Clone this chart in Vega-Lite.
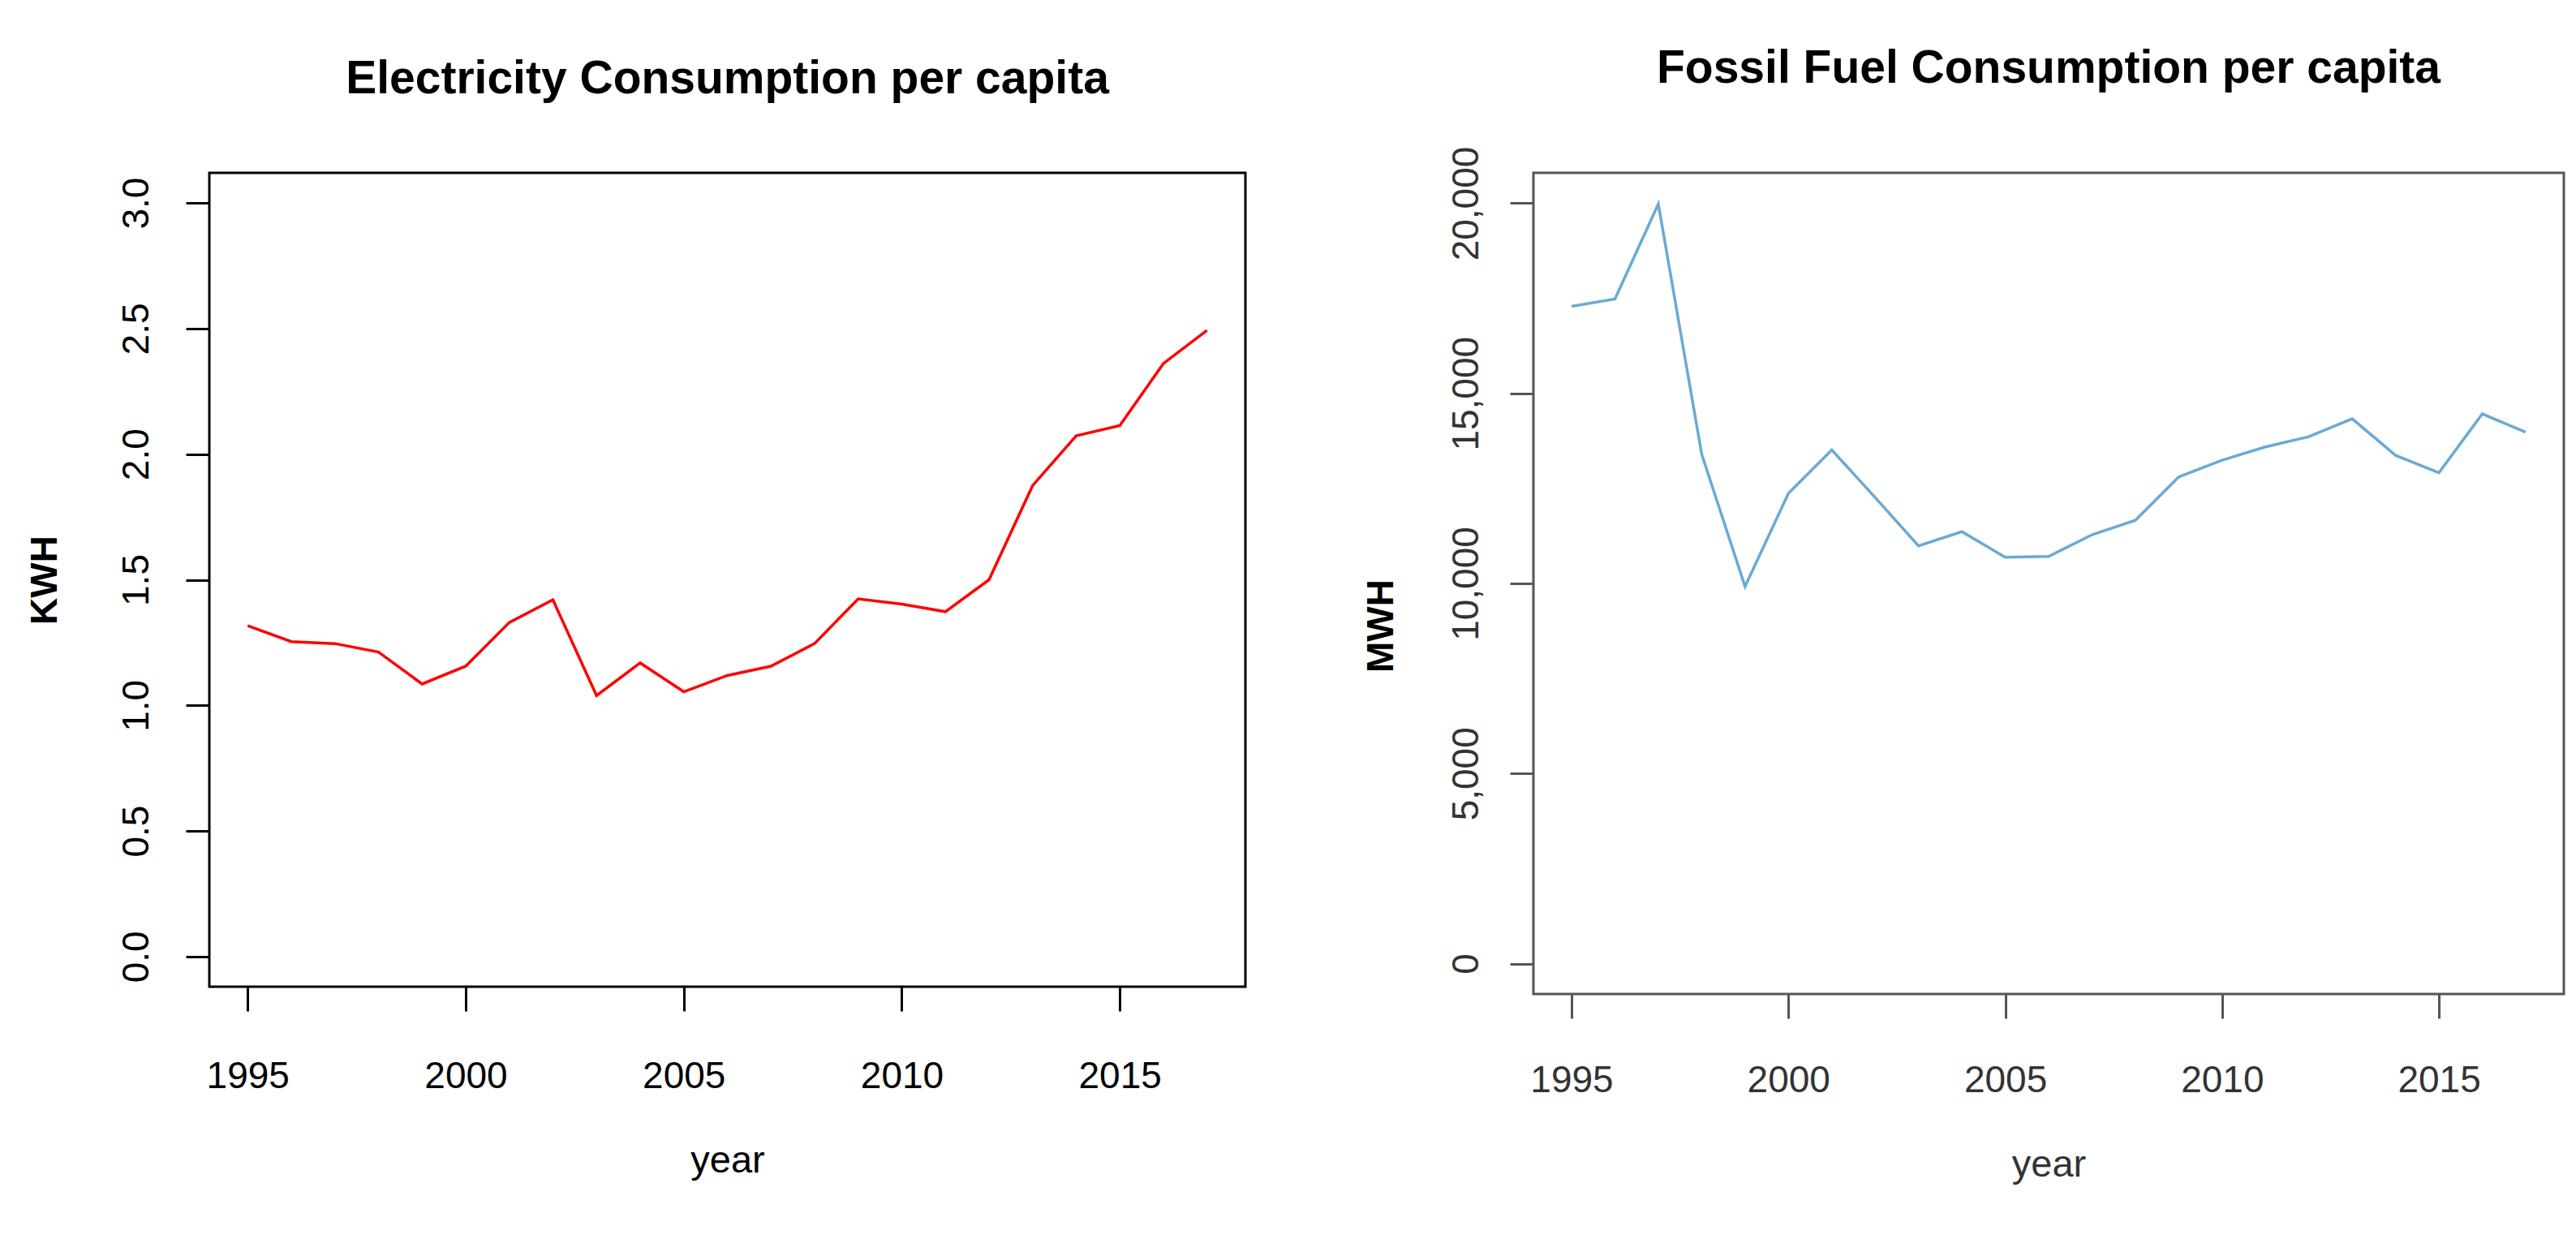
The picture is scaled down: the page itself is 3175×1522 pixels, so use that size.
{
  "$schema": "https://vega.github.io/schema/vega-lite/v6.json",
  "background": "white",
  "padding": {"left": 30, "top": 54, "right": 0, "bottom": 0},
  "spacing": 140,
  "config": {
    "font": "Liberation Sans",
    "view": {"stroke": "black", "strokeWidth": 3},
    "axis": {"grid": false, "domain": false, "labelFont": "Liberation Sans", "titleFont": "Liberation Sans"}
  },
  "data": {"values": [
    {"year": 1995, "kwh": 1.317, "mwh": 17290},
    {"year": 1996, "kwh": 1.254, "mwh": 17480},
    {"year": 1997, "kwh": 1.246, "mwh": 19980},
    {"year": 1998, "kwh": 1.212, "mwh": 13400},
    {"year": 1999, "kwh": 1.085, "mwh": 9920},
    {"year": 2000, "kwh": 1.156, "mwh": 12370},
    {"year": 2001, "kwh": 1.33, "mwh": 13510},
    {"year": 2002, "kwh": 1.42, "mwh": 12260},
    {"year": 2003, "kwh": 1.039, "mwh": 10990},
    {"year": 2004, "kwh": 1.169, "mwh": 11360},
    {"year": 2005, "kwh": 1.054, "mwh": 10690},
    {"year": 2006, "kwh": 1.119, "mwh": 10710},
    {"year": 2007, "kwh": 1.156, "mwh": 11280},
    {"year": 2008, "kwh": 1.246, "mwh": 11660},
    {"year": 2009, "kwh": 1.424, "mwh": 12800},
    {"year": 2010, "kwh": 1.403, "mwh": 13240},
    {"year": 2011, "kwh": 1.373, "mwh": 13590},
    {"year": 2012, "kwh": 1.5, "mwh": 13860},
    {"year": 2013, "kwh": 1.875, "mwh": 14330},
    {"year": 2014, "kwh": 2.073, "mwh": 13370},
    {"year": 2015, "kwh": 2.114, "mwh": 12910},
    {"year": 2016, "kwh": 2.361, "mwh": 14460},
    {"year": 2017, "kwh": 2.493, "mwh": 13980}
  ]},
  "hconcat": [
    {
      "width": 1277,
      "height": 1003,
      "title": {"text": "Electricity Consumption per capita", "fontSize": 57, "fontWeight": "bold", "color": "black", "offset": 86, "anchor": "middle"},
      "mark": {"type": "line", "color": "#ff0000", "strokeWidth": 3.5},
      "encoding": {
        "x": {"field": "year", "type": "quantitative", "title": "year",
          "scale": {"domain": [1994.12, 2017.88], "nice": false, "zero": false},
          "axis": {"values": [1995, 2000, 2005, 2010, 2015], "format": "d", "tickSize": 30, "tickWidth": 3, "tickColor": "black",
            "labelFontSize": 46, "labelColor": "black", "labelPadding": 58, "titleFontSize": 47, "titleFontWeight": "normal", "titleColor": "black", "titlePadding": 58}},
        "y": {"field": "kwh", "type": "quantitative", "title": "KWH",
          "scale": {"domain": [-0.12, 3.12], "nice": false, "zero": false},
          "axis": {"values": [0, 0.5, 1, 1.5, 2, 2.5, 3], "format": ".1f", "tickSize": 29, "tickWidth": 3, "tickColor": "black",
            "labelFontSize": 46, "labelColor": "black", "labelAngle": -90, "labelAlign": "center", "labelBaseline": "bottom", "labelPadding": 37,
            "titleFontSize": 46, "titleFontWeight": "bold", "titleColor": "black", "titlePadding": 66}}
      }
    },
    {
      "width": 1270,
      "height": 1012,
      "view": {"stroke": "#555555", "strokeWidth": 3},
      "title": {"text": "Fossil Fuel Consumption per capita", "fontSize": 57, "fontWeight": "bold", "color": "black", "offset": 66, "anchor": "middle"},
      "mark": {"type": "line", "color": "#6aaad4", "strokeWidth": 3.5},
      "encoding": {
        "x": {"field": "year", "type": "quantitative", "title": "year",
          "scale": {"domain": [1994.12, 2017.88], "nice": false, "zero": false},
          "axis": {"values": [1995, 2000, 2005, 2010, 2015], "format": "d", "tickSize": 30, "tickWidth": 3, "tickColor": "#555555",
            "labelFontSize": 46, "labelColor": "#333333", "labelPadding": 54, "titleFontSize": 47, "titleFontWeight": "normal", "titleColor": "#333333", "titlePadding": 58}},
        "y": {"field": "mwh", "type": "quantitative", "title": "MWH",
          "scale": {"domain": [-800, 20800], "nice": false, "zero": false},
          "axis": {"values": [0, 5000, 10000, 15000, 20000], "format": ",d", "tickSize": 29, "tickWidth": 3, "tickColor": "#555555",
            "labelFontSize": 46, "labelColor": "#333333", "labelAngle": -90, "labelAlign": "center", "labelBaseline": "bottom", "labelPadding": 30,
            "titleFontSize": 46, "titleFontWeight": "bold", "titleColor": "black", "titlePadding": 58, "titleY": 558}}
      }
    }
  ]
}
